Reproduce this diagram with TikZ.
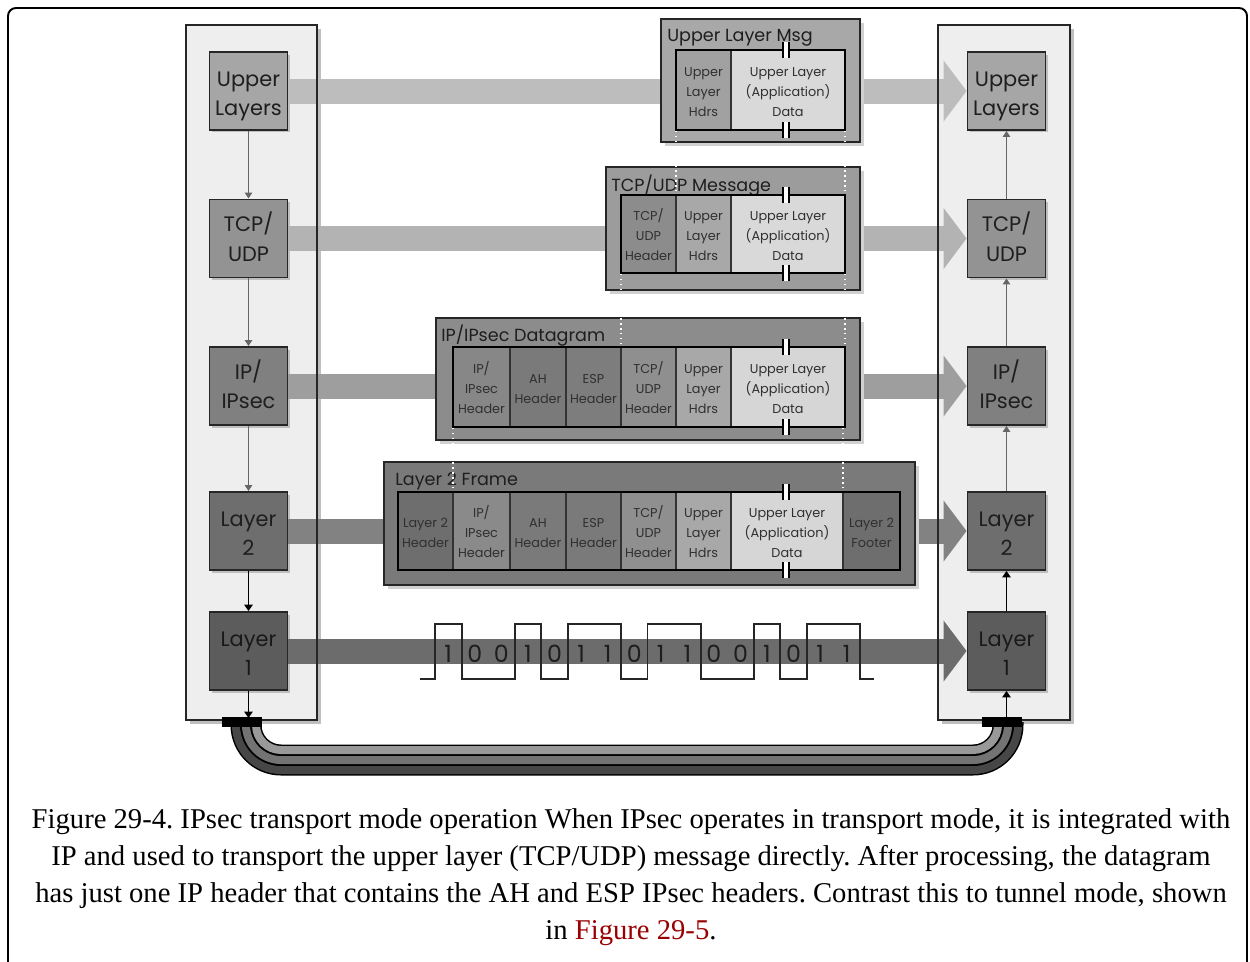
\documentclass[tikz,border=0pt]{standalone}
\usepackage{fontspec}
\setmainfont{Liberation Serif}
\newfontfamily\geo{Poppins}
\usetikzlibrary{arrows.meta,shadows}
\definecolor{colbg}{HTML}{EEEEEE}
\definecolor{cUL}{HTML}{A6A6A6}
\definecolor{cTU}{HTML}{939393}
\definecolor{cIP}{HTML}{808080}
\definecolor{cLt}{HTML}{6E6E6E}
\definecolor{cLo}{HTML}{5C5C5C}
\definecolor{bUL}{HTML}{BDBDBD}
\definecolor{bTU}{HTML}{B3B3B3}
\definecolor{bIP}{HTML}{9E9E9E}
\definecolor{bLt}{HTML}{828282}
\definecolor{bLo}{HTML}{6C6C6C}
\definecolor{txt}{HTML}{1E1E1E}
\definecolor{ctxt}{HTML}{303030}
\definecolor{linkred}{HTML}{990000}
\newcommand\fnode{\geo\fontsize{11.9}{17}\selectfont}
\newcommand\ftitle{\geo\fontsize{10}{12}\selectfont}
\newcommand\fcell{\geo\fontsize{7.3}{11.3}\selectfont}
\newcommand\fbit{\geo\fontsize{13.5}{16}\selectfont}
\newcommand\lwr[2]{\raisebox{-#1}[\height][\depth]{\begin{tabular}{@{}c@{}}#2\end{tabular}}}
\newcommand\mcell[7]{\node[cellbox, fill=#6, minimum width={(#3-#2)*0.02cm}, minimum height={(#5-#4)*0.02cm}, anchor=north west] (#1) at (#2,#4) {\lwr{0.05cm}{#7}};}
\newcommand\brk[2]{\fill[white] (#1-3,#2-8) rectangle (#1+3,#2+8);
  \draw[line width=1.1pt] (#1-3,#2-8) -- (#1-3,#2+8) (#1+3,#2-8) -- (#1+3,#2+8);}
\newcommand\msgb[6]{\node[msgbox, fill=#6, minimum width={(#3-#2)*0.02cm}, minimum height={(#5-#4)*0.02cm}, anchor=north west] (#1) at (#2,#4) {};}
\begin{document}
\frenchspacing
\begin{tikzpicture}[x=0.02cm,y=-0.02cm,
  layer/.style={draw=black!85, line width=1.1pt, minimum width=1.56cm, minimum height=1.56cm,
    inner sep=0pt, align=center, font=\fnode, text=txt,
    drop shadow={shadow xshift=0.05cm, shadow yshift=-0.05cm, fill=black!25, opacity=1}},
  bar/.style={line width=0.5cm, -{Triangle[length=0.46cm, width=1.2cm]}},
  varrow/.style={draw=black!60, line width=0.8pt, -{Triangle[length=0.12cm, width=0.15cm]}},
  barrow/.style={draw=black, line width=1pt, -{Triangle[length=0.13cm, width=0.17cm]}},
  cellbox/.style={draw=black!80, line width=0.7pt, inner sep=0pt, outer sep=0pt, align=center, font=\fcell, text=ctxt},
  msgbox/.style={draw=black!85, line width=1.2pt, inner sep=0pt, outer sep=0pt,
    drop shadow={shadow xshift=0.07cm, shadow yshift=-0.07cm, fill=black!18, opacity=1}},
  innerbox/.style={draw=black, line width=1.4pt},
  ttl/.style={font=\ftitle, text=txt, inner sep=0pt, anchor=west},
  guide/.style={draw=white, line width=0.8pt, dotted},
  bit/.style={font=\fbit, text=txt, inner sep=0pt}]
\useasboundingbox (0,0) rectangle (1250,961);
\clip (0,0) rectangle (1250,961);
% outer frame
\draw[line width=1.1pt, rounded corners=0.16cm] (8,8) rectangle (1247,1000);
% columns
\fill[black!25] (190,29) rectangle (321,724);
\fill[black!25] (942,29) rectangle (1074,724);
\fill[colbg] (186,25) rectangle (317,720);
\fill[colbg] (938,25) rectangle (1070,720);
% layer nodes
\node[layer, fill=cUL] (LUL) at (248.5,91) {\lwr{0.08cm}{Upper\\Layers}};
\node[layer, fill=cTU] (LTU) at (248.5,238.5) {\lwr{0.04cm}{TCP/\\UDP}};
\node[layer, fill=cIP] (LIP) at (248.5,386) {\lwr{0.04cm}{IP/\\IPsec}};
\node[layer, fill=cLt] (LL2) at (248.5,531) {\lwr{0.08cm}{Layer\\2}};
\node[layer, fill=cLo, text=black!90] (LL1) at (248.5,651) {\lwr{0.08cm}{Layer\\1}};
\node[layer, fill=cUL] (RUL) at (1006.5,91) {\lwr{0.08cm}{Upper\\Layers}};
\node[layer, fill=cTU] (RTU) at (1006.5,238.5) {\lwr{0.04cm}{TCP/\\UDP}};
\node[layer, fill=cIP] (RIP) at (1006.5,386) {\lwr{0.04cm}{IP/\\IPsec}};
\node[layer, fill=cLt] (RL2) at (1006.5,531) {\lwr{0.08cm}{Layer\\2}};
\node[layer, fill=cLo, text=black!90] (RL1) at (1006.5,651) {\lwr{0.08cm}{Layer\\1}};
% bars
\draw[bar, draw=bUL, fill=bUL] (LUL.east) -- (RUL.west);
\draw[bar, draw=bTU, fill=bTU] (LTU.east) -- (RTU.west);
\draw[bar, draw=bIP, fill=bIP] (LIP.east) -- (RIP.west);
\draw[bar, draw=bLt, fill=bLt] (LL2.east) -- (RL2.west);
\draw[bar, draw=bLo, fill=bLo] (LL1.east) -- (RL1.west);
% column borders
\draw[black!85, line width=1.1pt] (186,25) rectangle (317,720);
\draw[black!85, line width=1.1pt] (938,25) rectangle (1070,720);
% vertical arrows
\coordinate (lbot) at (248.5,718);
\coordinate (rbot) at (1006.5,720);
\draw[varrow] (LUL.south) -- (LTU.north);
\draw[varrow] (LTU.south) -- (LIP.north);
\draw[varrow] (LIP.south) -- (LL2.north);
\draw[barrow] (LL2.south) -- (LL1.north);
\draw[barrow] (LL1.south) -- (lbot);
\draw[varrow] (RTU.north) -- (RUL.south);
\draw[varrow] (RIP.north) -- (RTU.south);
\draw[varrow] (RL2.north) -- (RIP.south);
\draw[barrow] (RL1.north) -- (RL2.south);
\draw[barrow] (rbot) -- (RL1.south);
% ---- Upper Layer Msg
\msgb{M1}{661}{860}{19}{142}{black!34}
\node[ttl] (M1t) at (667,38) {Upper Layer Msg};
\mcell{M1a}{676}{731}{50}{130}{black!37}{Upper\\Layer\\Hdrs}
\mcell{M1b}{731}{845}{50}{130}{black!15}{Upper Layer\\(Application)\\Data}
\draw[innerbox] (676,50) rectangle (845,130);
\brk{786}{50}\brk{786}{130}
% ---- TCP/UDP Message
\msgb{M2}{606}{860}{167}{290}{black!39}
\node[ttl] (M2t) at (611,186) {TCP/UDP Message};
\mcell{M2a}{621}{676}{195}{273}{black!45}{TCP/\\UDP\\Header}
\mcell{M2b}{676}{731}{195}{273}{black!34}{Upper\\Layer\\Hdrs}
\mcell{M2c}{731}{845}{195}{273}{black!15}{Upper Layer\\(Application)\\Data}
\draw[innerbox] (621,195) rectangle (845,273);
\brk{786}{195}\brk{786}{273}
% ---- IP/IPsec Datagram
\msgb{M3}{436}{860}{318}{440}{black!45}
\node[ttl] (M3t) at (441,336) {IP/IPsec Datagram};
\mcell{M3a}{453}{510}{347}{427}{black!47}{IP/\\IPsec\\Header}
\mcell{M3b}{510}{566}{347}{427}{black!52}{AH\\Header}
\mcell{M3c}{566}{621}{347}{427}{black!51}{ESP\\Header}
\mcell{M3d}{621}{676}{347}{427}{black!44}{TCP/\\UDP\\Header}
\mcell{M3e}{676}{731}{347}{427}{black!34}{Upper\\Layer\\Hdrs}
\mcell{M3f}{731}{845}{347}{427}{black!16}{Upper Layer\\(Application)\\Data}
\draw[innerbox] (453,347) rectangle (845,427);
\brk{786}{347}\brk{786}{427}
% ---- Layer 2 Frame
\msgb{M4}{384}{915}{462}{585}{black!52}
\node[ttl] (M4t) at (395,481) {Layer 2 Frame};
\mcell{M4a}{398}{453}{492}{570}{black!57}{Layer 2\\Header}
\mcell{M4b}{453}{510}{492}{570}{black!46}{IP/\\IPsec\\Header}
\mcell{M4c}{510}{566}{492}{570}{black!52}{AH\\Header}
\mcell{M4d}{566}{621}{492}{570}{black!52}{ESP\\Header}
\mcell{M4e}{621}{676}{492}{570}{black!44}{TCP/\\UDP\\Header}
\mcell{M4f}{676}{731}{492}{570}{black!34}{Upper\\Layer\\Hdrs}
\mcell{M4g}{731}{843}{492}{570}{black!16}{Upper Layer\\(Application)\\Data}
\mcell{M4h}{843}{900}{492}{570}{black!57}{Layer 2\\Footer}
\draw[innerbox] (398,492) rectangle (900,570);
\brk{786}{492}\brk{786}{570}
% guides
\draw[guide] (676,131) -- (676,194);
\draw[guide] (845,131) -- (845,194);
\draw[guide] (621,274) -- (621,346);
\draw[guide] (845,274) -- (845,346);
\draw[guide] (453,428) -- (453,491);
\draw[guide] (843,428) -- (843,491);
% square wave
\draw[black!85, line width=1.1pt] (420,679) -- (435,679) -- (435,624) -- (461.6,624) -- (461.6,679)
  -- (514.7,679) -- (514.7,624) -- (541.3,624) -- (541.3,679) -- (567.8,679) -- (567.8,624)
  -- (621,624) -- (621,679) -- (647.5,679) -- (647.5,624) -- (700.6,624) -- (700.6,679)
  -- (753.8,679) -- (753.8,624) -- (780.3,624) -- (780.3,679) -- (806.9,679) -- (806.9,624)
  -- (860,624) -- (860,679) -- (874,679);
\foreach \b [count=\k from 0] in {1,0,0,1,0,1,1,0,1,1,0,0,1,0,1,1}
  \node[bit] (bit\k) at ({435+(\k+0.5)*26.5625},654) {\b};
% cable
\draw[black, line width=0.22cm, rounded corners=0.9cm] (236,722) -- (236,770) -- (1018,770) -- (1018,722);
\draw[black!72, line width=0.16cm, rounded corners=0.9cm] (236,722) -- (236,770) -- (1018,770) -- (1018,722);
\draw[black, line width=0.22cm, rounded corners=0.7cm] (246,722) -- (246,760) -- (1008,760) -- (1008,722);
\draw[black!55, line width=0.16cm, rounded corners=0.7cm] (246,722) -- (246,760) -- (1008,760) -- (1008,722);
\draw[black, line width=0.22cm, rounded corners=0.5cm] (256,722) -- (256,750) -- (998,750) -- (998,722);
\draw[black!40, line width=0.16cm, rounded corners=0.5cm] (256,722) -- (256,750) -- (998,750) -- (998,722);
\fill[black] (222,717) rectangle (262,727);
\fill[black] (982,717) rectangle (1022,727);
% caption
\node[font=\fontsize{16.3}{21}\selectfont, align=center, inner sep=0pt] (cap) at (631,877)
 {Figure 29-4. IPsec transport mode operation When IPsec operates in transport mode, it is integrated with\\
  IP and used to transport the upper layer (TCP/UDP) message directly. After processing, the datagram\\
  has just one IP header that contains the AH and ESP IPsec headers. Contrast this to tunnel mode, shown\\
  in \textcolor{linkred}{Figure 29-5}.};
\end{tikzpicture}
\end{document}
